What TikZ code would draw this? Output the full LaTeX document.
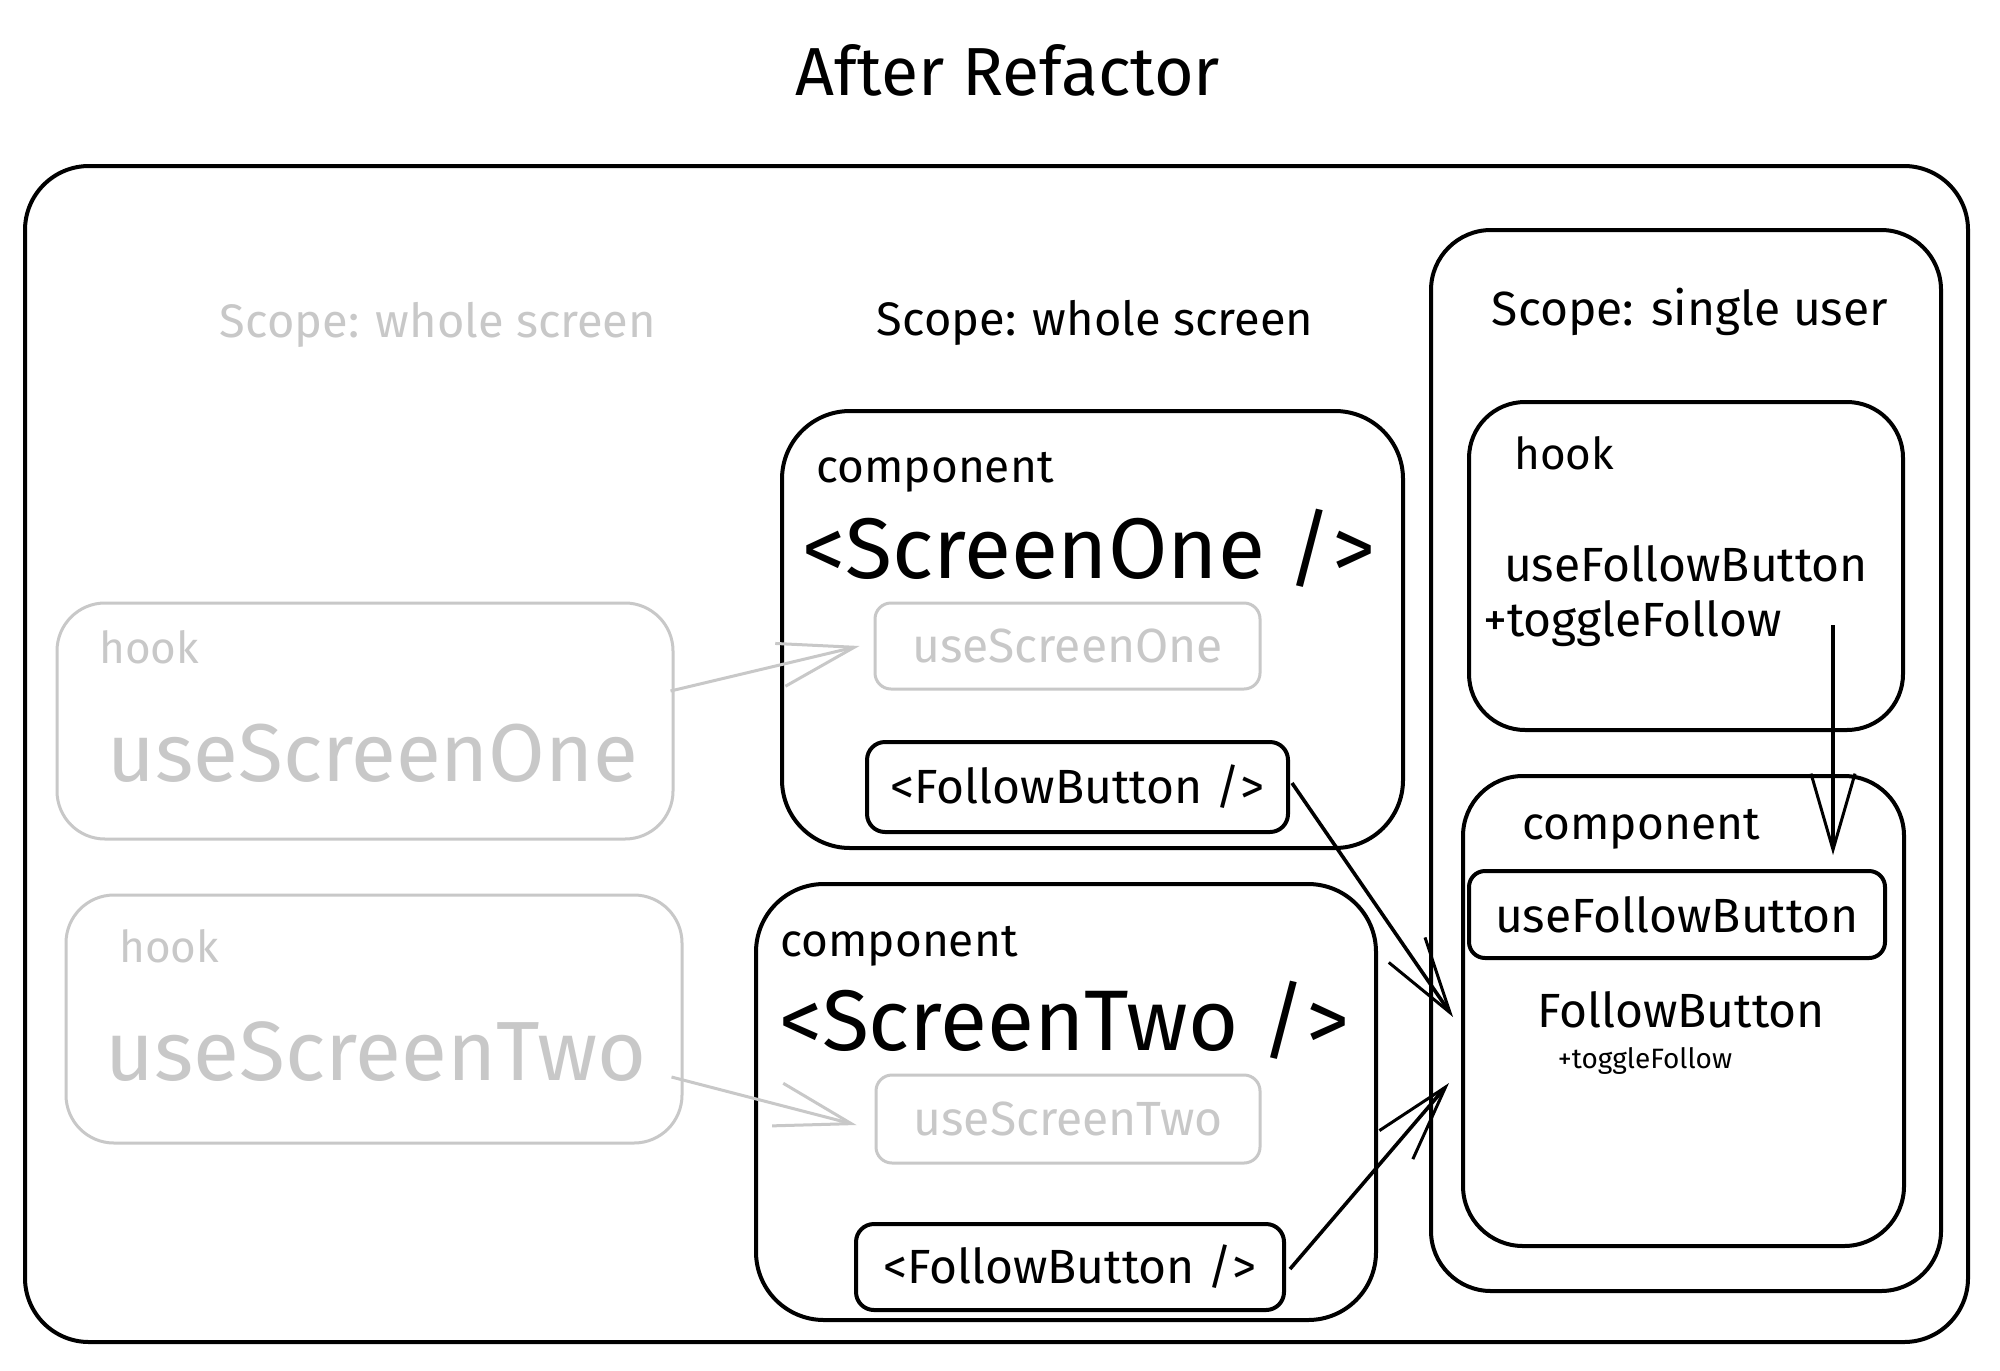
\documentclass[tikz,border=0pt]{standalone}
\usepackage{fontspec}
\setmainfont{Fira Sans}
\usetikzlibrary{fit,arrows.meta}
\definecolor{ghost}{HTML}{C8C8C8}
\tikzset{
  box/.style={draw=black, line width=2pt, inner sep=0pt},
  gbox/.style={draw=ghost, line width=1.5pt, inner sep=0pt},
  lbl/.style={inner sep=0pt, text=black},
  glbl/.style={inner sep=0pt, text=ghost},
  barb/.style={-{Straight Barb[length=38pt,width=22pt,line width=1.5pt]}},
  garr/.style={draw=ghost, line width=1.5pt, barb},
  barr/.style={draw=black, line width=1.8pt, barb},
}
\begin{document}
\begin{tikzpicture}[x=0.5pt,y=-0.5pt]
\useasboundingbox[fill=white] (0,0) rectangle (2000,1370);

% title
\node[lbl, font=\fontsize{34}{38}\selectfont] (title) at (1008,70) {After Refactor};

% outer frame
\node[box, rounded corners=32pt, fit={(25,166)(1968,1342)}] (outer) {};

% scope labels
\node[glbl, font=\fontsize{23.5}{26}\selectfont] (scopeA) at (438,325) {Scope: whole screen};
\node[lbl, font=\fontsize{23.5}{26}\selectfont] (scopeB) at (1095,323) {Scope: whole screen};

% single user scope
\node[box, rounded corners=30pt, fit={(1431,230)(1941,1291)}] (single) {};
\node[lbl, font=\fontsize{24}{26}\selectfont] (scopeC) at (1690,312) {Scope: single user};

% hook (right)
\node[box, rounded corners=28pt, fit={(1469,402)(1903,730)}] (hookR) {};
\node[lbl, font=\fontsize{22}{26}\selectfont, anchor=west] (hookRl) at (1514,453) {hook};
\node[lbl, font=\fontsize{24}{28}\selectfont] (ufb) at (1686,564) {useFollowButton};
\node[lbl, font=\fontsize{24}{28}\selectfont, anchor=west] (tf) at (1483,624) {+toggleFollow};

% component (right)
\node[box, rounded corners=30pt, fit={(1463,776)(1904,1246)}] (compR) {};
\node[lbl, font=\fontsize{23}{26}\selectfont] (compRl) at (1641,829) {component};
\node[box, rounded corners=8pt, fit={(1469,871)(1885,958)}] (ufbIn) {};
\node[lbl, font=\fontsize{24}{28}\selectfont] (ufbInl) at (ufbIn.center) {useFollowButton};
\node[lbl, font=\fontsize{24}{28}\selectfont] (fbl) at (1681,1010) {FollowButton};
\node[lbl, font=\fontsize{14}{16}\selectfont] (tfs) at (1645,1061) {+toggleFollow};

% ScreenOne
\node[box, rounded corners=34pt, fit={(782,411)(1403,848)}] (s1) {};
\node[lbl, font=\fontsize{23}{26}\selectfont] (s1c) at (935,472) {component};
\node[lbl, font=\fontsize{43}{48}\selectfont] (s1t) at (1089,548) {<ScreenOne />};
\node[gbox, rounded corners=8pt, fit={(875,603)(1260,689)}] (uso) {};
\node[glbl, font=\fontsize{24}{28}\selectfont] (usol) at (uso.center) {useScreenOne};
\node[box, rounded corners=9pt, fit={(867,742)(1288,832)}] (fb1) {};
\node[lbl, font=\fontsize{24}{28}\selectfont] (fb1l) at (fb1.center) {<FollowButton />};

% ScreenTwo
\node[box, rounded corners=34pt, fit={(756,884)(1376,1320)}] (s2) {};
\node[lbl, font=\fontsize{23}{26}\selectfont] (s2c) at (899,946) {component};
\node[lbl, font=\fontsize{43}{48}\selectfont] (s2t) at (1064,1020) {<ScreenTwo />};
\node[gbox, rounded corners=8pt, fit={(876,1075)(1260,1163)}] (ust) {};
\node[glbl, font=\fontsize{24}{28}\selectfont] (ustl) at (ust.center) {useScreenTwo};
\node[box, rounded corners=9pt, fit={(856,1224)(1284,1310)}] (fb2) {};
\node[lbl, font=\fontsize{24}{28}\selectfont] (fb2l) at (fb2.center) {<FollowButton />};

% ghost hooks (left)
\node[gbox, rounded corners=24pt, fit={(57,603)(673,839)}] (hookA) {};
\node[glbl, font=\fontsize{22}{26}\selectfont, anchor=west] (hookAl) at (99,647) {hook};
\node[glbl, font=\fontsize{41}{46}\selectfont] (hookAt) at (373,753) {useScreenOne};
\node[gbox, rounded corners=24pt, fit={(66,895)(682,1143)}] (hookB) {};
\node[glbl, font=\fontsize{22}{26}\selectfont, anchor=west] (hookBl) at (119,946) {hook};
\node[glbl, font=\fontsize{42}{46}\selectfont] (hookBt) at (376,1052) {useScreenTwo};

% connectors
\draw[garr] ([xshift=-2pt,yshift=15pt]hookA.east) -- ([xshift=-7pt]uso.west);
\draw[garr] ([xshift=-6pt,yshift=-29pt]hookB.east) -- ([xshift=-9pt,yshift=-3pt]ust.west);
\draw[barr] ([xshift=1pt,yshift=2pt]fb1.east) -- ([xshift=-4pt,yshift=-3pt]compR.west);
\draw[barr] ([xshift=2pt,yshift=-1pt]fb2.east) -- ([xshift=-6pt,yshift=-36pt]compR.west);
\coordinate (vtop) at (1833,625);
\draw[barr] (vtop) -- ([yshift=7pt]vtop |- ufbIn.north);
\end{tikzpicture}
\end{document}
